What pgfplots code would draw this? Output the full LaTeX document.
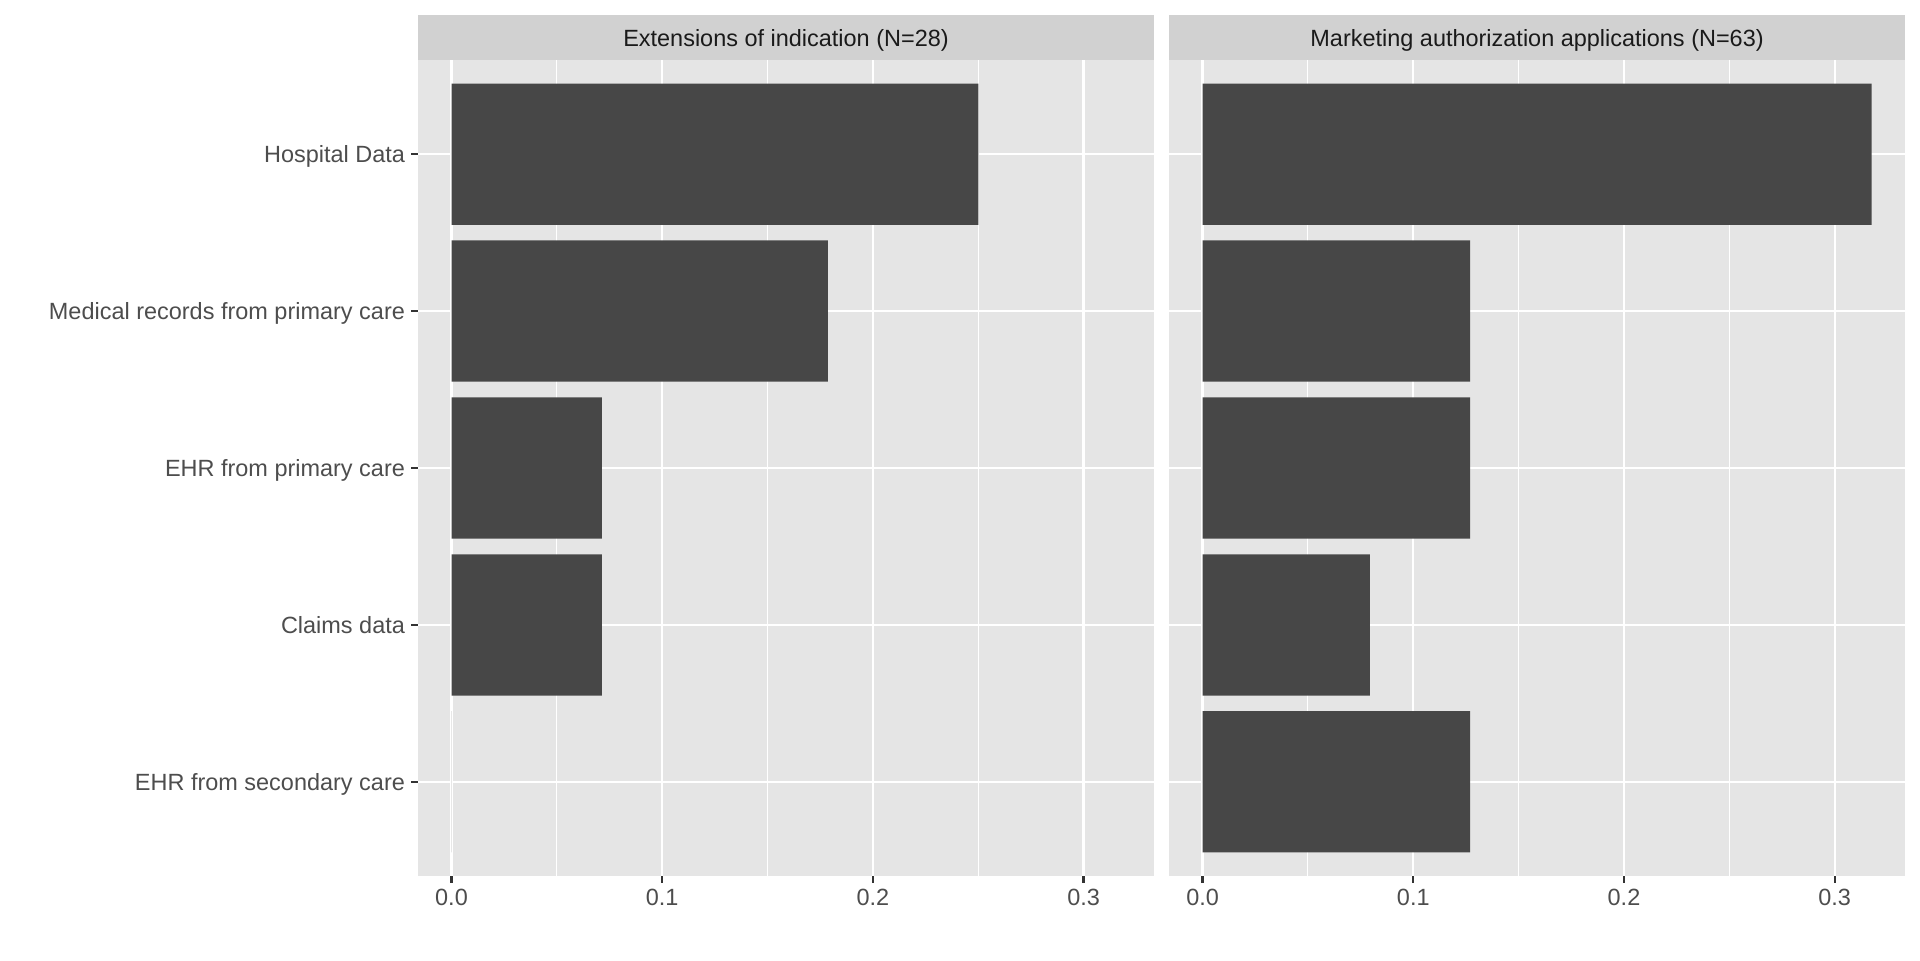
\documentclass[border=0pt]{standalone}
\usepackage{pgfplots}
\pgfplotsset{compat=1.18}
\usepackage{fontspec}
\setmainfont{Liberation Sans}
\definecolor{panelbg}{HTML}{E5E5E5}
\definecolor{stripbg}{HTML}{D1D1D1}
\definecolor{barfill}{HTML}{474747}
\definecolor{ticklab}{HTML}{4D4D4D}
\definecolor{tickcol}{HTML}{333333}
\definecolor{striptext}{HTML}{1A1A1A}

\pgfplotsset{
  facet/.style={
    scale only axis,
    width=276pt, height=306pt,
    xmin=-0.0159, xmax=0.3334,
    ymin=0.4, ymax=5.6,
    xtick={0,0.1,0.2,0.3},
    xticklabels={0.0,0.1,0.2,0.3},
    minor xtick={0.05,0.15,0.25},
    ytick={1,2,3,4,5},
    grid=both,
    major grid style={draw=white, line width=0.85pt},
    minor grid style={draw=white, line width=0.42pt},
    axis line style={draw=none},
    axis background/.style={fill=panelbg},
    tick align=outside,
    tick pos=left,
    major tick length=2.5pt,
    minor tick length=0pt,
    tick style={draw=tickcol, line width=0.85pt},
    xticklabel style={font=\fontsize{8.8}{10}\selectfont, text=ticklab, inner sep=0pt, text height=6.3pt, text depth=0pt, yshift=-2.0pt},
    yticklabel style={font=\fontsize{8.8}{10}\selectfont, text=ticklab, inner sep=0pt, text height=6.3pt, text depth=0pt, xshift=-2.2pt},
    /pgf/number format/assume math mode=true,
    xbar, bar width=0.9,
    clip=false,
  }
}

\begin{document}
\begin{tikzpicture}
\path (0,0) rectangle (720pt,360pt);

% Left facet: Extensions of indication (N=28)
\begin{axis}[facet,
  at={(156.75pt,31.5pt)}, anchor=south west,
  yticklabels={EHR from secondary care,Claims data,EHR from primary care,Medical records from primary care,Hospital Data},
]
\addplot[fill=barfill, draw=none] coordinates {
  (0.0000,1) (0.0714,2) (0.0714,3) (0.1786,4) (0.2500,5)
};
\fill[stripbg] (rel axis cs:0,1) rectangle ([yshift=16.9pt]rel axis cs:1,1);
\node[font=\fontsize{8.8}{10}\selectfont, text=striptext, anchor=base, inner sep=0pt]
  at ([yshift=5.25pt]rel axis cs:0.5,1) {Extensions of indication (N=28)};
\end{axis}

% Right facet: Marketing authorization applications (N=63)
\begin{axis}[facet,
  at={(438.4pt,31.5pt)}, anchor=south west,
  ymajorticks=false,
]
\addplot[fill=barfill, draw=none] coordinates {
  (0.1270,1) (0.0794,2) (0.1270,3) (0.1270,4) (0.3175,5)
};
\fill[stripbg] (rel axis cs:0,1) rectangle ([yshift=16.9pt]rel axis cs:1,1);
\node[font=\fontsize{8.8}{10}\selectfont, text=striptext, anchor=base, inner sep=0pt]
  at ([yshift=5.25pt]rel axis cs:0.5,1) {Marketing authorization applications (N=63)};
\end{axis}
\end{tikzpicture}
\end{document}
